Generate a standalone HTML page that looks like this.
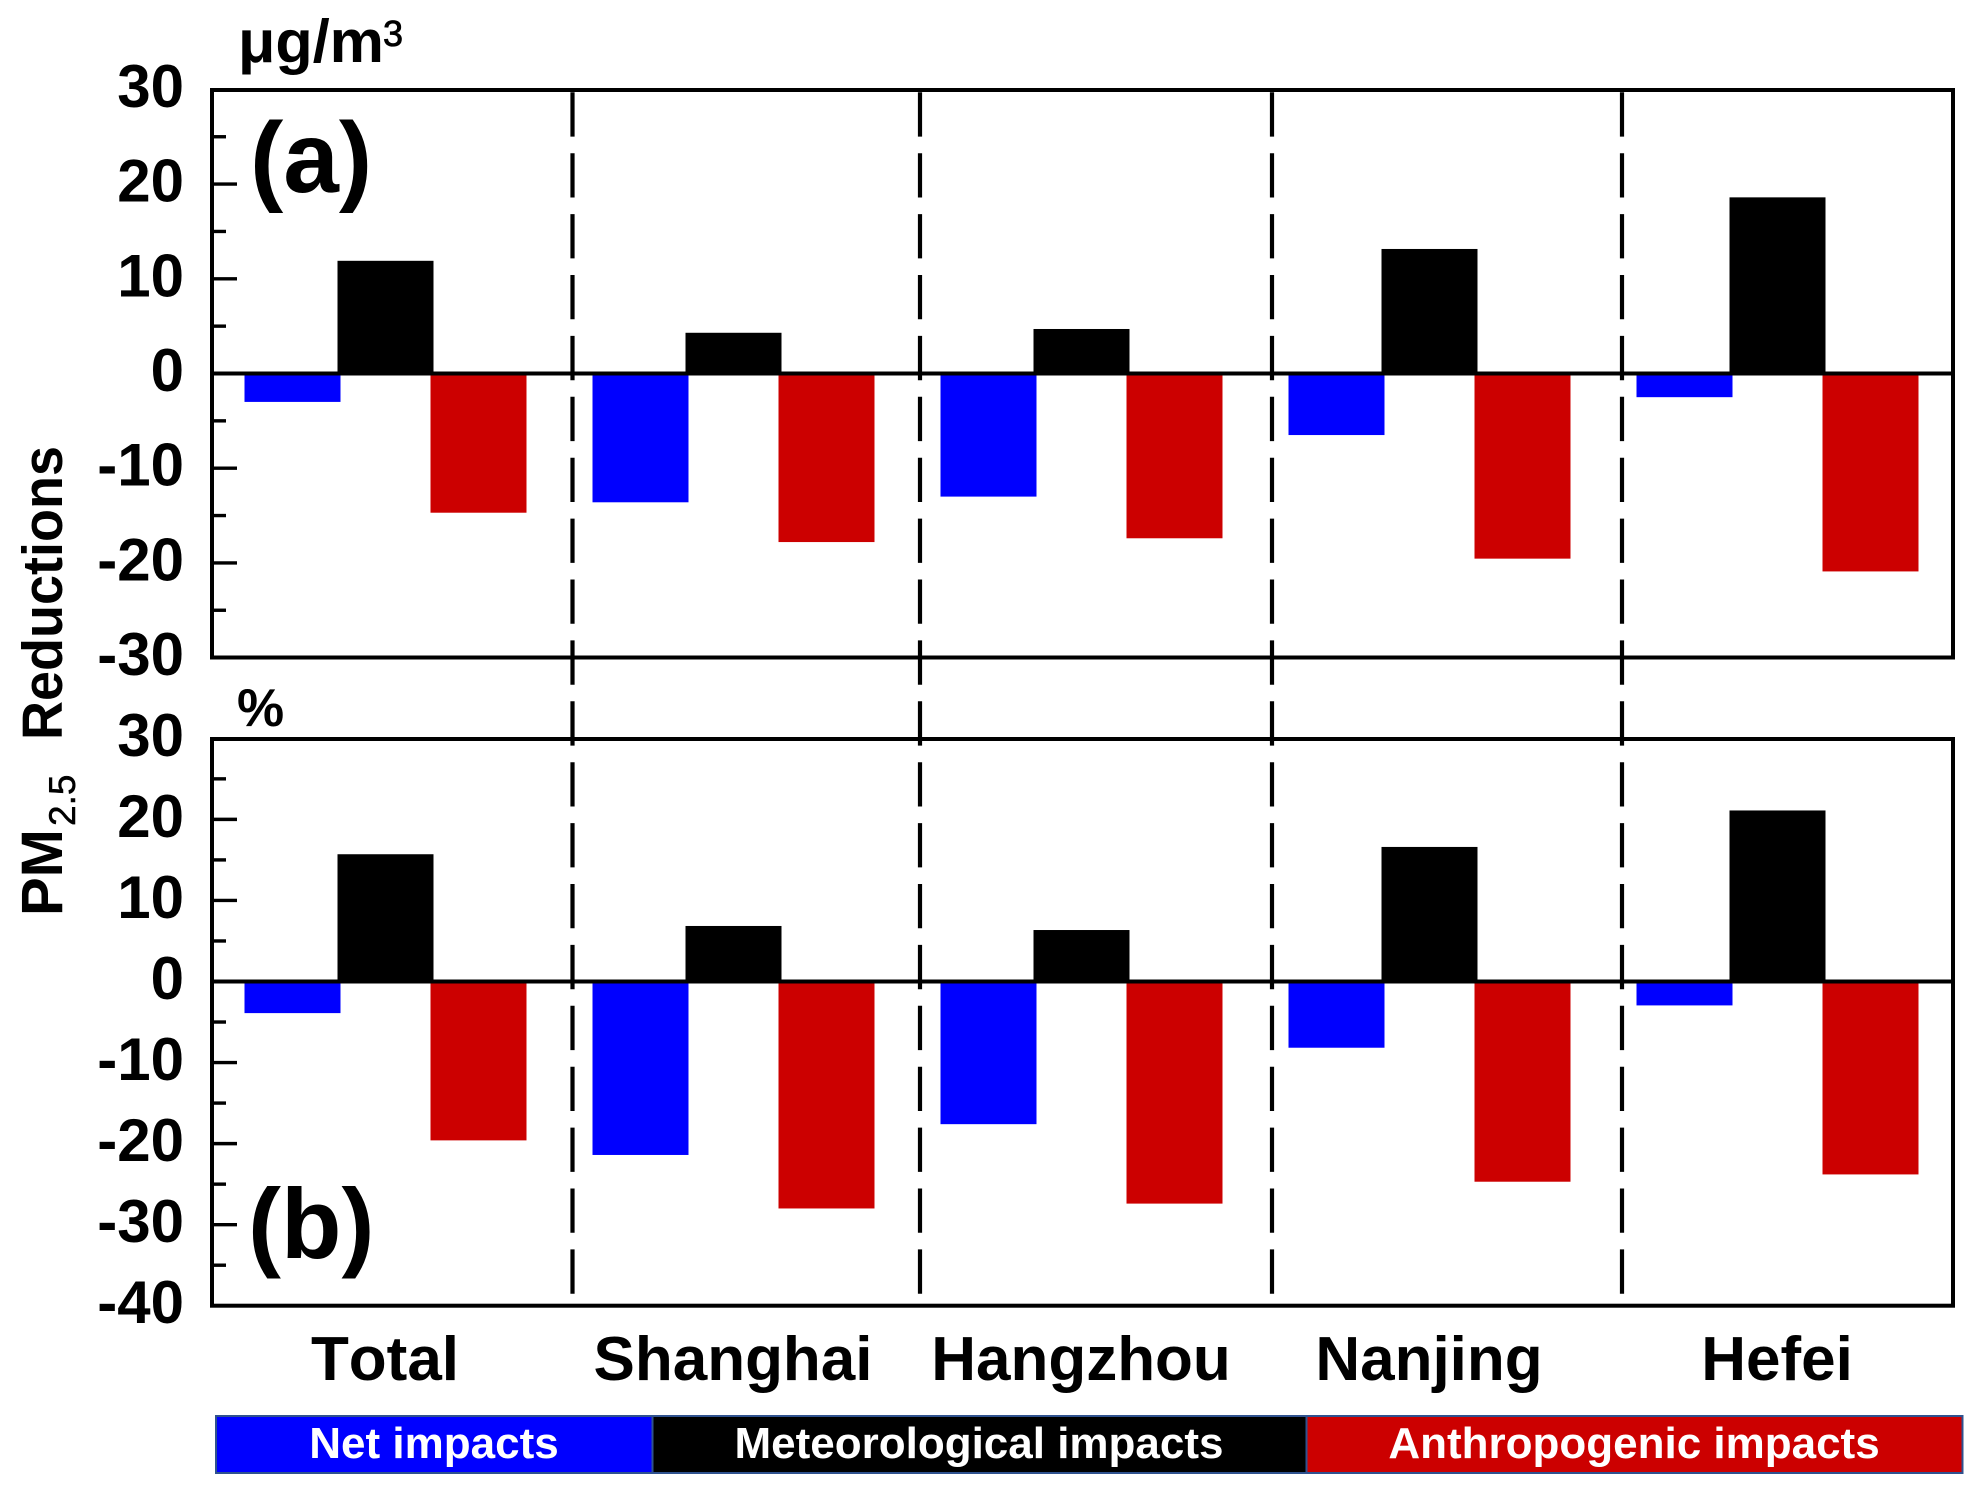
<!DOCTYPE html>
<html lang="en">
<head>
<meta charset="utf-8">
<title>PM2.5 Reductions</title>
<style>
html,body{margin:0;padding:0;background:#fff;}
svg{display:block;}
text{font-family:"Liberation Sans",Arial,sans-serif;font-weight:bold;fill:#000;}
</style>
</head>
<body>
<svg id="chart" xmlns="http://www.w3.org/2000/svg" width="1982" height="1493" viewBox="0 0 1982 1493">
  <rect x="0" y="0" width="1982" height="1493" fill="#fff"/>
  <g id="bars"></g>
  <g id="axes"></g>
  <g id="dividers"></g>

  <text x="238" y="62" font-size="60" textLength="146" lengthAdjust="spacingAndGlyphs">μg/m</text>
  <text x="383" y="46" font-size="36" style="font-weight:normal;stroke:#000;stroke-width:0.8">3</text>
  <text x="250" y="192" font-size="100">(a)</text>
  <text x="237" y="726" font-size="53">%</text>
  <text x="248" y="1258" font-size="99">(b)</text>

  <g>
    <text transform="translate(62,916) rotate(-90)" font-size="58">PM</text>
    <text transform="translate(75,826) rotate(-90)" font-size="37" style="font-weight:normal;stroke:#000;stroke-width:0.5">2.5</text>
    <text transform="translate(62,740) rotate(-90)" font-size="57" textLength="294" lengthAdjust="spacingAndGlyphs">Reductions</text>
  </g>

  <g>
    <rect x="216" y="1416" width="436.5" height="57" fill="#0000ff" stroke="#2f528f" stroke-width="2"/>
    <rect x="652.5" y="1416" width="654" height="57" fill="#000000" stroke="#2f528f" stroke-width="2"/>
    <rect x="1306.5" y="1416" width="656" height="57" fill="#cc0000" stroke="#2f528f" stroke-width="2"/>
    <text x="434" y="1458" font-size="44" text-anchor="middle" style="fill:#fff">Net impacts</text>
    <text x="979" y="1458" font-size="44" text-anchor="middle" style="fill:#fff">Meteorological impacts</text>
    <text x="1634" y="1458" font-size="44" text-anchor="middle" style="fill:#fff">Anthropogenic impacts</text>
  </g>
</svg>

<script>
var categories = ['Total', 'Shanghai', 'Hangzhou', 'Nanjing', 'Hefei'];

var netAbs = [-3.0, -13.6, -13.0, -6.5, -2.5];
var metAbs = [11.9, 4.3, 4.7, 13.15, 18.6];
var anthAbs = [-14.7, -17.8, -17.4, -19.55, -20.9];

var netPct = [-3.9, -21.4, -17.6, -8.17, -2.95];
var metPct = [15.7, 6.85, 6.35, 16.6, 21.1];
var anthPct = [-19.6, -28.0, -27.4, -24.7, -23.8];

var ticksAbs = [30, 20, 10, 0, -10, -20, -30];
var ticksPct = [30, 20, 10, 0, -10, -20, -30, -40];

var NS = 'http://www.w3.org/2000/svg';
var barsLayer = document.getElementById('bars');
var axesLayer = document.getElementById('axes');
var dividersLayer = document.getElementById('dividers');

function mk(tag, attrs, parent) {
  var el = document.createElementNS(NS, tag);
  for (var k in attrs) { el.setAttribute(k, attrs[k]); }
  parent.appendChild(el);
  return el;
}

var LEFT = 212, RIGHT = 1953;
var panelA = { top: 90, bottom: 657.5, zero: 373.5, unit: 9.47 };
var panelB = { top: 739, bottom: 1305.7, zero: 981.5, unit: 8.106 };

function yOf(panel, v) { return panel.zero - v * panel.unit; }
function groupX(i) { return 385.5 + i * 348; }

var BAR_W = 96, BAR_OFFSET = 93;
var seriesColors = ['#0000ff', '#000000', '#cc0000'];
var seriesNames = ['net', 'meteorological', 'anthropogenic'];

function drawBars(panel, panelName, seriesList) {
  seriesList.forEach(function (values, s) {
    values.forEach(function (v, i) {
      var y0 = yOf(panel, 0), y1 = yOf(panel, v);
      var cx = groupX(i) + (s - 1) * BAR_OFFSET;
      var el = mk('rect', {
        x: cx - BAR_W / 2,
        y: Math.min(y0, y1),
        width: BAR_W,
        height: Math.abs(y1 - y0),
        fill: seriesColors[s]
      }, barsLayer);
      
      
    });
  });
}

function drawAxes(panel, panelName, tickValues) {
  var frame = mk('rect', {
    x: LEFT, y: panel.top, width: RIGHT - LEFT, height: panel.bottom - panel.top,
    fill: 'none', stroke: '#000', 'stroke-width': 4
  }, axesLayer);
  
  

  var zero = mk('line', {
    x1: LEFT, x2: RIGHT, y1: yOf(panel, 0), y2: yOf(panel, 0),
    stroke: '#000', 'stroke-width': 4
  }, axesLayer);
  
  

  tickValues.forEach(function (v, idx) {
    var y = yOf(panel, v);
    var isEdge = idx === 0 || idx === tickValues.length - 1;
    if (!isEdge && v !== 0) {
      var major = mk('line', {
        x1: LEFT, x2: LEFT + 25, y1: y, y2: y, stroke: '#000', 'stroke-width': 3.4
      }, axesLayer);
      
      
    }
    if (idx < tickValues.length - 1) {
      var mid = (v + tickValues[idx + 1]) / 2;
      var yMid = yOf(panel, mid);
      var minor = mk('line', {
        x1: LEFT, x2: LEFT + 14, y1: yMid, y2: yMid, stroke: '#000', 'stroke-width': 3.4
      }, axesLayer);
      
      
    }
    var label = mk('text', {
      x: 184, y: y + 17.5, 'font-size': 60, 'text-anchor': 'end'
    }, axesLayer);
    label.textContent = String(v);
    
    
  });
}

drawBars(panelA, 'a', [netAbs, metAbs, anthAbs]);
drawBars(panelB, 'b', [netPct, metPct, anthPct]);
drawAxes(panelA, 'a', ticksAbs);
drawAxes(panelB, 'b', ticksPct);

/* divider nudges from the midpoint between groups, in px */
var dividerNudge = [0, 13, 12.5, 16.5, 18.5];

categories.forEach(function (name, i) {
  var t = mk('text', {
    x: groupX(i) - 0.5, y: 1380, 'font-size': 62, 'text-anchor': 'middle',
    style: 'font-kerning:none'
  }, axesLayer);
  t.textContent = name;
  
  

  if (i > 0) {
    var divX = groupX(i) - 174 + dividerNudge[i];
    var d = mk('line', {
      x1: divX, x2: divX, y1: 92.3, y2: 1295.5,
      stroke: '#000', 'stroke-width': 4.2, 'stroke-dasharray': '44.3 16.6'
    }, dividersLayer);
    
    
  }
});
</script>
</body>
</html>
